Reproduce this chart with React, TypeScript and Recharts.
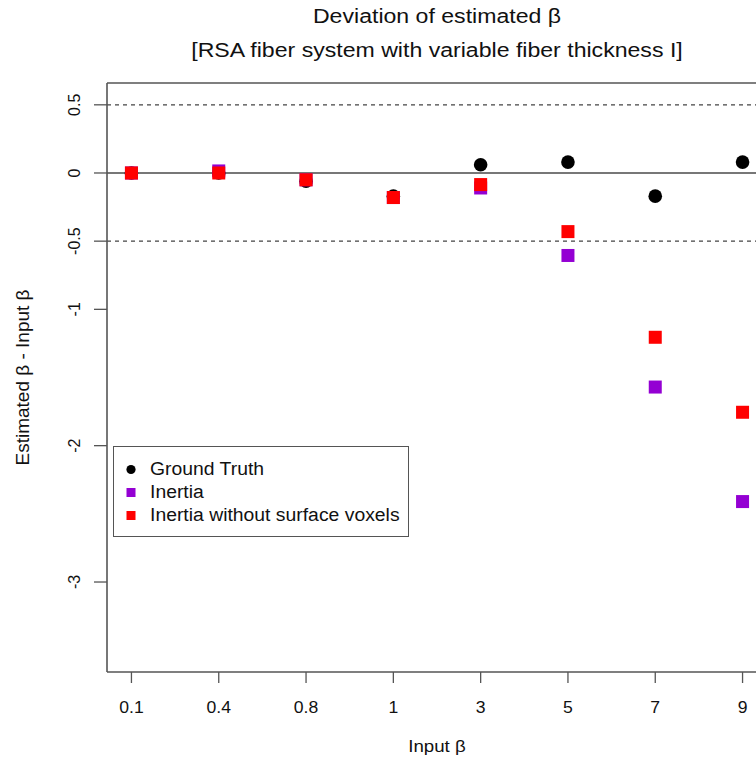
import React from 'react';
import {
  ScatterChart,
  Scatter,
  XAxis,
  YAxis,
  ReferenceLine,
  Legend,
} from 'recharts';

// ---- data ----
const categories = ['0.1', '0.4', '0.8', '1', '3', '5', '7', '9'];
const groundTruth = [0, 0, -0.06, -0.17, 0.06, 0.08, -0.17, 0.08];
const inertia = [0, 0.015, -0.05, -0.18, -0.11, -0.605, -1.57, -2.41];
const inertiaNoSurface = [0, 0, -0.05, -0.18, -0.085, -0.43, -1.205, -1.755];
const yTicks = [0.5, 0, -0.5, -1, -2, -3];
const xTicks = categories.map((_, i) => i + 1);

const XMIN = 0.72;
const XMAX = 8.28;
const YMIN = -3.66;
const YMAX = 0.66;

const toPoints = (vals: number[]) => vals.map((v, i) => ({ x: i + 1, y: v }));
const gtData = toPoints(groundTruth);
const inData = toPoints(inertia);
const inNsData = toPoints(inertiaNoSurface);

const FONT = '"Liberation Sans", Arial, Helvetica, sans-serif';
const SX = 1.1;
const AXIS = '#555';

const CircleShape = (props: any) => {
  const { cx, cy, fill } = props;
  if (cx == null || cy == null) return null;
  return <circle cx={cx} cy={cy} r={6.8} fill={fill} />;
};
const SquareShape = (props: any) => {
  const { cx, cy, fill } = props;
  if (cx == null || cy == null) return null;
  return <rect x={cx - 6.5} y={cy - 6.5} width={13} height={13} fill={fill} />;
};

const XTick = (props: any) => {
  const { x, y, payload } = props;
  const label = categories[payload.value - 1] ?? '';
  return (
    <g transform={`translate(${x},${y + 28}) scale(${SX},1)`}>
      <text x={0} y={0} textAnchor="middle" fontFamily={FONT} fontSize={16} fill="#111">
        {label}
      </text>
    </g>
  );
};

const YTick = (props: any) => {
  const { x, y, payload } = props;
  return (
    <g transform={`translate(${x - 12},${y}) rotate(-90)`}>
      <text x={0} y={0} textAnchor="middle" fontFamily={FONT} fontSize={16} fill="#111">
        {String(payload.value)}
      </text>
    </g>
  );
};

const LegendContent = (props: any) => {
  const { payload } = props;
  return (
    <div
      style={{
        width: 296,
        height: 91,
        border: `1.5px solid ${AXIS}`,
        background: '#fff',
        boxSizing: 'border-box',
        paddingTop: 11,
        fontFamily: FONT,
        fontSize: 17.6,
        color: '#111',
      }}
    >
      {(payload || []).map((entry: any, i: number) => (
        <div key={i} style={{ height: 23, display: 'flex', alignItems: 'center', position: 'relative' }}>
          <svg width={36} height={23} style={{ flex: 'none' }}>
            {entry.type === 'circle' ? (
              <circle cx={17} cy={11.5} r={4.6} fill={entry.color} />
            ) : (
              <rect x={12.5} y={7} width={9} height={9} fill={entry.color} />
            )}
          </svg>
          <span
            style={{
              display: 'inline-block',
              transform: `scaleX(${SX})`,
              transformOrigin: 'left center',
              whiteSpace: 'nowrap',
              lineHeight: '23px',
            }}
          >
            {entry.value}
          </span>
        </div>
      ))}
    </div>
  );
};

export default function App() {
  return (
    <div
      style={{
        position: 'absolute',
        left: 0,
        top: 0,
        width: 756,
        height: 764,
        overflow: 'hidden',
        background: '#fff',
      }}
    >
      <ScatterChart width={780} height={764} margin={{ top: 83, right: 13, bottom: 0, left: 0 }}>
        <XAxis
          type="number"
          dataKey="x"
          domain={[XMIN, XMAX]}
          ticks={xTicks}
          allowDataOverflow
          height={92}
          tickSize={11}
          stroke={AXIS}
          axisLine={{ stroke: AXIS, strokeWidth: 1.6 }}
          tickLine={{ stroke: AXIS, strokeWidth: 1.3 }}
          tick={<XTick />}
          interval={0}
        />
        <YAxis
          type="number"
          dataKey="y"
          domain={[YMIN, YMAX]}
          ticks={yTicks}
          allowDataOverflow
          width={107}
          tickSize={13}
          stroke={AXIS}
          axisLine={{ stroke: AXIS, strokeWidth: 1.6 }}
          tickLine={{ stroke: AXIS, strokeWidth: 1.3 }}
          tick={<YTick />}
          interval={0}
        />
        <ReferenceLine y={YMAX} stroke={AXIS} strokeWidth={1.6} />
        <ReferenceLine x={XMAX} stroke={AXIS} strokeWidth={1.6} />
        <ReferenceLine y={0} stroke="#777" strokeWidth={2} />
        <ReferenceLine y={0.5} stroke="#444" strokeWidth={1.2} strokeDasharray="4 4" />
        <ReferenceLine y={-0.5} stroke="#444" strokeWidth={1.2} strokeDasharray="4 4" />
        <Legend
          layout="vertical"
          align="center"
          verticalAlign="middle"
          content={<LegendContent />}
          wrapperStyle={{ left: 113, top: 446, width: 296, height: 91 }}
        />
        <Scatter
          name="Ground Truth"
          data={gtData}
          fill="#000000"
          legendType="circle"
          shape={<CircleShape />}
          isAnimationActive={false}
        />
        <Scatter
          name="Inertia"
          data={inData}
          fill="#9400D3"
          legendType="square"
          shape={<SquareShape />}
          isAnimationActive={false}
        />
        <Scatter
          name="Inertia without surface voxels"
          data={inNsData}
          fill="#FF0000"
          legendType="square"
          shape={<SquareShape />}
          isAnimationActive={false}
        />
      </ScatterChart>
      <svg
        width={756}
        height={764}
        style={{ position: 'absolute', left: 0, top: 0, pointerEvents: 'none' }}
      >
        <g transform={`translate(437,23) scale(${SX},1)`}>
          <text x={0} y={0} textAnchor="middle" fontFamily={FONT} fontSize={21} fill="#111">
            Deviation of estimated β
          </text>
        </g>
        <g transform={`translate(437,57) scale(${SX},1)`}>
          <text x={0} y={0} textAnchor="middle" fontFamily={FONT} fontSize={21} fill="#111">
            [RSA fiber system with variable fiber thickness I]
          </text>
        </g>
        <g transform={`translate(437,752) scale(${SX},1)`}>
          <text x={0} y={0} textAnchor="middle" fontFamily={FONT} fontSize={17} fill="#111">
            Input β
          </text>
        </g>
        <g transform="translate(29,377.5) rotate(-90)">
          <text x={0} y={0} textAnchor="middle" fontFamily={FONT} fontSize={19} fill="#111">
            Estimated β - Input β
          </text>
        </g>
      </svg>
    </div>
  );
}
